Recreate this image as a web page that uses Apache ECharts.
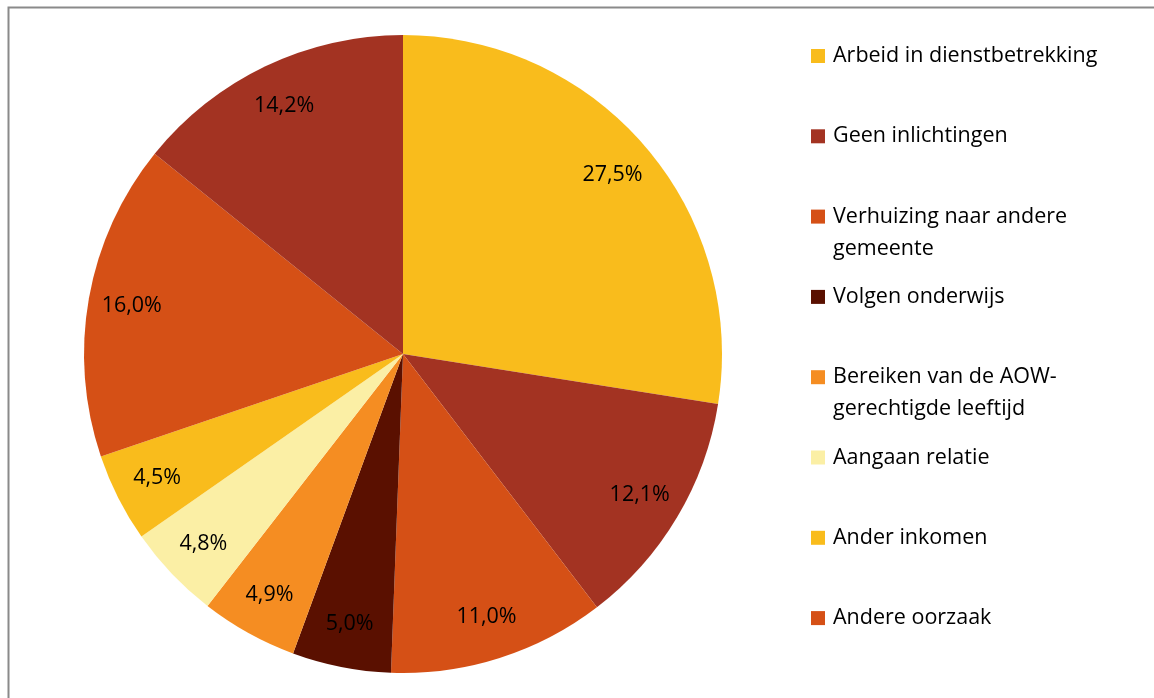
<!DOCTYPE html>
<html>
<head>
<meta charset="utf-8">
<script src="https://cdn.jsdelivr.net/npm/echarts@6/dist/echarts.min.js"></script>
<style>
  html, body { margin: 0; padding: 0; background: #fff; }
  #chart { width: 1154px; height: 698px; }
</style>
</head>
<body>
<div id="chart"></div>
<script>
  // categories (the 9th slice has no visible legend entry in the source)
  const categories = [
    'Arbeid in dienstbetrekking',
    'Geen inlichtingen',
    'Verhuizing naar andere gemeente',
    'Volgen onderwijs',
    'Bereiken van de AOW-gerechtigde leeftijd',
    'Aangaan relatie',
    'Ander inkomen',
    'Andere oorzaak',
    'Overig'
  ];
  // how the legend shows them (wrapped like the original)
  const legendText = [
    'Arbeid in dienstbetrekking',
    'Geen inlichtingen',
    'Verhuizing naar andere\ngemeente',
    'Volgen onderwijs',
    'Bereiken van de AOW-\ngerechtigde leeftijd',
    'Aangaan relatie',
    'Ander inkomen',
    'Andere oorzaak'
  ];
  const shares = [27.5, 12.1, 11.0, 5.0, 4.9, 4.8, 4.5, 16.0, 14.2];

  const colors = ['#F9BC1C', '#A33322', '#D55016', '#5A1000', '#F58D22', '#FBEFA5', '#F9BC1C', '#D55016', '#A33322'];

  const font = '"Open Sans", "Noto Sans", sans-serif';
  const chart = echarts.init(document.getElementById('chart'), null, {renderer: 'canvas'});

  const pieData = categories.map((name, i) => ({
    name: name,
    value: shares[i],
    itemStyle: {color: colors[i]}
  }));

  // one legend box per entry, so the spacing can follow the original
  const lineH = 32;
  const legends = legendText.map((txt, i) => {
    const centerY = 56 + 80.3 * i;
    const wrapped = txt.indexOf('\n') >= 0;
    return {
      orient: 'vertical',
      left: 811,
      top: wrapped ? centerY - lineH * 1.5 : centerY - lineH / 2,
      data: [categories[i]],
      icon: 'rect',
      itemWidth: 14,
      itemHeight: 14,
      itemGap: 0,
      padding: 0,
      selectedMode: false,
      formatter: () => wrapped ? '\n' + txt : txt,
      textStyle: {
        fontFamily: font,
        fontSize: 21.5,
        color: '#000',
        lineHeight: lineH,
        padding: [0, 0, 0, 3]
      }
    };
  });

  const option = {
    backgroundColor: '#fff',
    animation: false,
    legend: legends,
    graphic: [{
      type: 'rect',
      left: 6,
      top: 5,
      shape: {width: 1300, height: 900},
      style: {fill: 'none', stroke: '#8a8a8a', lineWidth: 2},
      silent: true,
      z: -10
    }],
    series: [
      {
        type: 'pie',
        center: [403, 354],
        radius: [0, 319],
        startAngle: 90,
        clockwise: true,
        label: {show: false},
        labelLine: {show: false},
        emphasis: {disabled: true},
        data: pieData
      },
      {
        // transparent ring only used to place the labels near the rim
        type: 'pie',
        center: [403, 354],
        radius: [226, 319],
        startAngle: 90,
        clockwise: true,
        silent: true,
        itemStyle: {color: 'rgba(0,0,0,0)'},
        label: {
          show: true,
          position: 'inside',
          fontFamily: font,
          fontSize: 21.5,
          color: '#000',
          formatter: p => p.value.toFixed(1).replace('.', ',') + '%'
        },
        labelLine: {show: false},
        emphasis: {disabled: true},
        data: shares.map((v, i) => ({name: categories[i], value: v}))
      }
    ]
  };

  chart.setOption(option);
</script>
</body>
</html>
